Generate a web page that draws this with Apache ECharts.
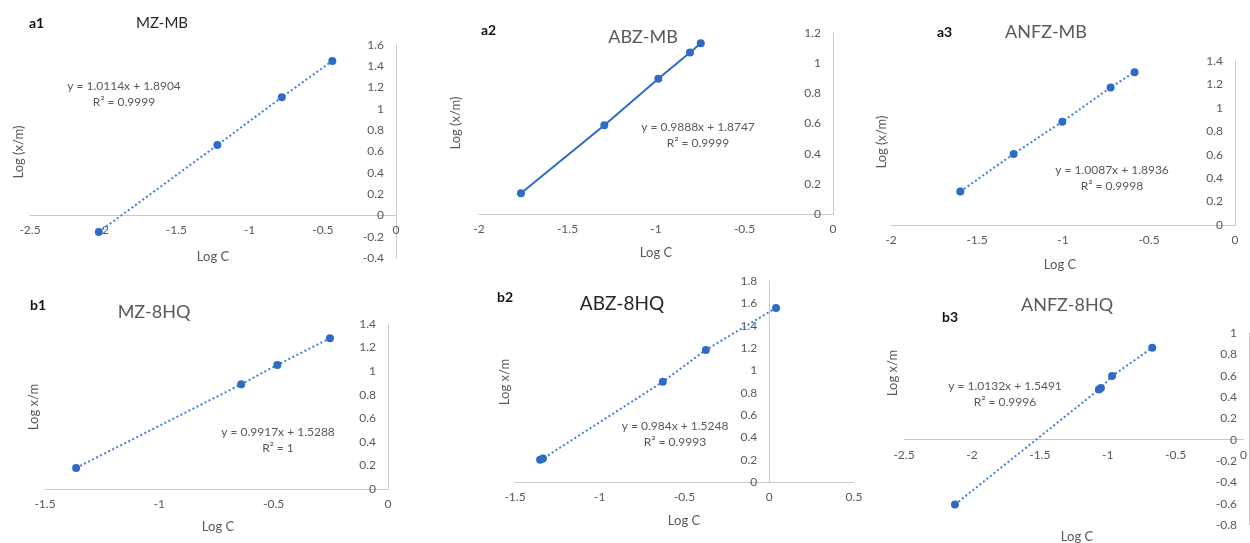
<!DOCTYPE html>
<html>
<head>
<meta charset="utf-8">
<script src="https://cdn.jsdelivr.net/npm/echarts@6/dist/echarts.min.js"></script>
<style>
html, body { margin: 0; padding: 0; background: #fff; }
#chart { width: 1250px; height: 543px; }
</style>
</head>
<body>
<div id="chart"></div>
<script>
// Log C / Log (x/m) points
var a1X = [-2.03, -1.22, -0.78, -0.435];
var a1Y = [-0.155, 0.66, 1.11, 1.45];
var a2X = [-1.763, -1.292, -0.987, -0.808, -0.747];
var a2Y = [0.137, 0.589, 0.896, 1.071, 1.132];
var a3X = [-1.597, -1.287, -1.004, -0.723, -0.584];
var a3Y = [0.286, 0.607, 0.882, 1.174, 1.305];
var b1X = [-1.364, -0.642, -0.484, -0.254];
var b1Y = [0.179, 0.888, 1.053, 1.279];
var b2X = [-1.352, -1.335, -0.628, -0.374, 0.040];
var b2Y = [0.20, 0.21, 0.897, 1.183, 1.559];
var b3X = [-2.125, -1.065, -1.05, -0.968, -0.672];
var b3Y = [-0.608, 0.47, 0.485, 0.596, 0.862];

var panelTags = ['a1', 'a2', 'a3', 'b1', 'b2', 'b3'];
var panelNames = ['MZ-MB', 'ABZ-MB', 'ANFZ-MB', 'MZ-8HQ', 'ABZ-8HQ', 'ANFZ-8HQ'];
var equations = ['y = 1.0114x + 1.8904', 'y = 0.9888x + 1.8747', 'y = 1.0087x + 1.8936',
                 'y = 0.9917x + 1.5288', 'y = 0.984x + 1.5248', 'y = 1.0132x + 1.5491'];
var rSquared = ['R\u00b2 = 0.9999', 'R\u00b2 = 0.9999', 'R\u00b2 = 0.9998',
                'R\u00b2 = 1', 'R\u00b2 = 0.9993', 'R\u00b2 = 0.9996'];
var yTitles = ['Log (x/m)', 'Log (x/m)', 'Log (x/m)', 'Log x/m', 'Log x/m', 'Log x/m'];

// axis ranges
var xMins = [-2.5, -2, -2, -1.5, -1.5, -2.5];
var xMaxs = [0, 0, 0, 0, 0.5, 0];
var yMins = [-0.4, 0, 0, 0, 0, -0.8];
var yMaxs = [1.6, 1.2, 1.4, 1.4, 1.8, 1];

var xs = [a1X, a2X, a3X, b1X, b2X, b3X];
var ys = [a1Y, a2Y, a3Y, b1Y, b2Y, b3Y];

var BLUE = '#2E6BC6';
var GRAY = '#595959';
var FONT = 'Lato, "Open Sans", sans-serif';

// layout
var grids = [
	{left: 30, top: 45, width: 366, height: 213},
	{left: 479, top: 33, width: 354, height: 181},
	{left: 891, top: 61, width: 344, height: 164},
	{left: 45, top: 324, width: 343, height: 165},
	{left: 515, top: 281, width: 339, height: 201},
	{left: 904, top: 333, width: 345, height: 192}
];
var tagPos = [[29, 23], [481, 30], [937, 32], [30, 305], [497, 297], [942, 317]];
var namePos = [[162, 23], [643, 37], [1046, 32], [154, 312], [622, 304], [1067, 305]];
var nameStyle = [[15, '#262626'], [18, GRAY], [18, GRAY], [18, GRAY], [19, '#262626'], [18, GRAY]];
var eqPos = [[124, 86], [698, 127], [1112, 170], [278, 432], [675, 426], [1005, 386]];
var yTitlePos = [[19, 152], [456, 123], [882, 142], [34, 407], [505, 382], [893, 373]];
var xTitlePos = [[213, 257], [656, 253], [1060, 265], [218, 527], [684, 521], [1077, 537]];

var xAxes = [], yAxes = [], series = [], graphics = [];
for (var i = 0; i < 6; i++) {
	var g = grids[i];
	// axes cross at zero, labels travel with the line
	var xOff = -g.height * (0 - yMins[i]) / (yMaxs[i] - yMins[i]);
	var yOff = -g.width * (0 - xMins[i]) / (xMaxs[i] - xMins[i]);
	var axisLine = {show: true, onZero: false, lineStyle: {color: '#C8C8C8', width: 1}};
	xAxes.push({
		type: 'value', gridIndex: i, min: xMins[i], max: xMaxs[i], interval: 0.5,
		position: 'bottom', offset: xOff,
		axisLine: axisLine, axisTick: {show: false}, splitLine: {show: false},
		axisLabel: {color: GRAY, fontSize: 12, fontFamily: FONT, margin: 9}
	});
	yAxes.push({
		type: 'value', gridIndex: i, min: yMins[i], max: yMaxs[i], interval: 0.2,
		position: 'left', offset: yOff,
		axisLine: axisLine, axisTick: {show: false}, splitLine: {show: false},
		axisLabel: {color: GRAY, fontSize: 12, fontFamily: FONT, margin: 12}
	});
	var pts = [];
	for (var j = 0; j < xs[i].length; j++) pts.push([xs[i][j], ys[i][j]]);
	series.push({
		type: 'line', xAxisIndex: i, yAxisIndex: i, data: pts,
		symbol: 'circle', symbolSize: 8, showSymbol: true,
		itemStyle: {color: BLUE},
		lineStyle: i === 1 ? {color: BLUE, width: 2} : {color: '#3F7FDB', width: 2, type: [2, 2.5]},
		animation: false
	});
	graphics.push({type: 'text', x: tagPos[i][0], y: tagPos[i][1],
		style: {text: panelTags[i], font: 'bold 14px ' + FONT, fill: '#111', textVerticalAlign: 'middle'}});
	graphics.push({type: 'text', x: namePos[i][0], y: namePos[i][1],
		style: {text: panelNames[i], font: nameStyle[i][0] + 'px ' + FONT, fill: nameStyle[i][1],
			textAlign: 'center', textVerticalAlign: 'middle'}});
	graphics.push({type: 'text', x: eqPos[i][0], y: eqPos[i][1],
		style: {text: equations[i], font: '12px ' + FONT, fill: GRAY, textAlign: 'center', textVerticalAlign: 'middle'}});
	graphics.push({type: 'text', x: eqPos[i][0], y: eqPos[i][1] + 16,
		style: {text: rSquared[i], font: '12px ' + FONT, fill: GRAY, textAlign: 'center', textVerticalAlign: 'middle'}});
	graphics.push({type: 'text', x: yTitlePos[i][0], y: yTitlePos[i][1], rotation: Math.PI / 2,
		style: {text: yTitles[i], font: '13px ' + FONT, fill: GRAY, textAlign: 'center', textVerticalAlign: 'middle'}});
	graphics.push({type: 'text', x: xTitlePos[i][0], y: xTitlePos[i][1],
		style: {text: 'Log C', font: '13px ' + FONT, fill: GRAY, textAlign: 'center', textVerticalAlign: 'middle'}});
}

var chart = echarts.init(document.getElementById('chart'));
chart.setOption({
	backgroundColor: '#fff',
	animation: false,
	grid: grids,
	xAxis: xAxes,
	yAxis: yAxes,
	series: series,
	graphic: graphics
});
window.addEventListener('resize', chart.resize);
</script>
</body>
</html>
